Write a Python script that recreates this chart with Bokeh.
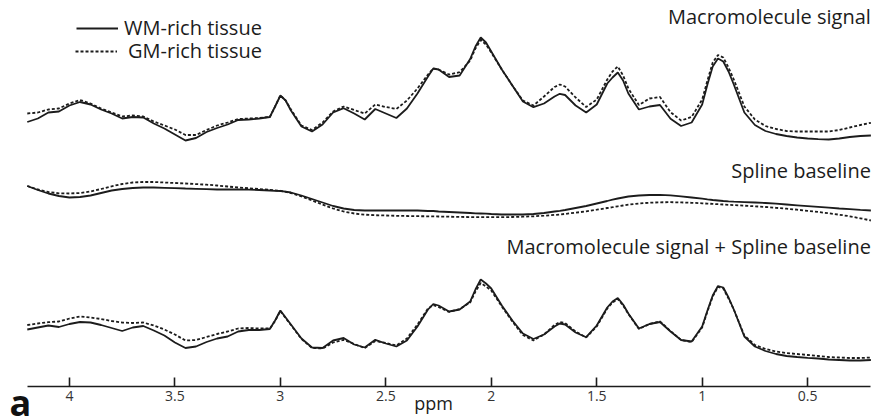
from bokeh.plotting import figure
from bokeh.models import Range1d, FixedTicker, Label, Legend, LegendItem, LinearAxis
from bokeh.embed import file_html
from bokeh.resources import INLINE

# chemical shift (ppm), shared by all series
ppm = [4.2, 4.15, 4.1, 4.05, 4.0, 3.95, 3.9, 3.85, 3.8, 3.75,
       3.7, 3.65, 3.6, 3.55, 3.5, 3.45, 3.4, 3.35, 3.3, 3.25,
       3.2, 3.15, 3.1, 3.05, 3.025, 3.0, 2.975, 2.95, 2.9, 2.85,
       2.8, 2.75, 2.7, 2.65, 2.6, 2.55, 2.5, 2.45, 2.4, 2.35,
       2.3, 2.275, 2.25, 2.2, 2.15, 2.1, 2.075, 2.05, 2.025, 2.0,
       1.95, 1.9, 1.85, 1.8, 1.75, 1.7, 1.675, 1.65, 1.6, 1.55,
       1.5, 1.45, 1.425, 1.4, 1.375, 1.35, 1.3, 1.25, 1.2, 1.15,
       1.1, 1.05, 1.0, 0.975, 0.95, 0.925, 0.9, 0.875, 0.85, 0.8,
       0.75, 0.7, 0.65, 0.6, 0.55, 0.5, 0.45, 0.4, 0.35, 0.3,
       0.25, 0.2]

# Macromolecule signal (a.u.)
mm_wm = [19.5, 23, 29, 30, 36, 39.5, 37, 32, 28, 23,
         24.5, 24, 18, 13, 7, 1, 3.5, 9.5, 13.5, 17,
         21.5, 22, 23, 24.5, 35, 46, 41, 31, 15, 10,
         17, 29, 33.3, 28, 22, 32.5, 28, 23.5, 33, 48,
         65, 73, 72, 64.5, 66, 82.5, 95, 104, 99, 90,
         72, 56, 40, 34.3, 38, 45, 47.7, 46.5, 36, 29,
         37, 58, 64, 69, 61, 48, 32, 35, 36.5, 22.7,
         15.5, 19, 37, 57, 75, 83, 80, 70, 57, 29,
         16.5, 10.5, 7.5, 5.5, 4, 3, 2.3, 2, 3, 4.5,
         5.5, 6]
mm_gm = [28, 29, 32, 33, 38, 41.5, 38, 33, 29, 25,
         26, 25, 20, 16, 12, 6.5, 6.5, 11.5, 16, 19,
         22.5, 23, 23.5, 24.5, 35, 46, 41, 32, 16, 11.5,
         19, 30, 35, 31.5, 28, 37, 34.5, 32.5, 41, 53,
         67, 73, 72, 67, 69.3, 81, 93, 101.5, 97, 89,
         72, 56, 41, 36, 45, 54.5, 57, 55, 44, 34.5,
         42, 62, 70, 75, 66, 53, 36.5, 43, 44.5, 29.3,
         21, 24.5, 42, 61, 79, 86.5, 84, 74, 62, 35,
         22, 15.5, 12.5, 10.5, 10, 10, 10, 10, 11.5, 14,
         16.5, 18.7]

# Spline baseline (a.u.)
sp_wm = [34.5, 30.5, 27, 24.5, 23, 23.5, 25, 27.5, 30, 31.5,
         32.5, 33, 33, 32.7, 32.4, 32, 31.7, 31.4, 31, 31,
         31, 30.8, 30.5, 30, 29.7, 29.5, 28.8, 28, 25, 21.5,
         18, 14.5, 12, 10.5, 10, 10, 10, 10, 10, 10,
         9.5, 9.5, 9, 8.5, 8, 7.5, 7.2, 7, 6.8, 6.5,
         6, 6, 6, 6.5, 7.5, 9, 9.7, 10.5, 12.5, 14.5,
         17, 19.5, 20.8, 22, 23, 24, 25, 25.5, 25.7, 25.2,
         24.2, 23, 21.8, 21.1, 20.5, 20, 19.5, 19.1, 18.8, 18.4,
         18, 17.5, 16.8, 16, 15.2, 14.4, 13.6, 12.8, 12, 11.3,
         10.6, 10]
sp_gm = [34.5, 31, 28.5, 27.2, 27, 27.5, 29, 31.5, 34.2, 36.5,
         38, 38.5, 38.5, 38, 37.5, 37, 36.4, 35.8, 35, 34,
         33, 32.2, 31.5, 30.7, 30.2, 29.7, 28.6, 27.5, 24, 20,
         16, 12, 9, 7, 5.8, 5.3, 5, 4.7, 4.5, 4.3,
         4.2, 4.1, 4, 3.8, 3.6, 3.4, 3.3, 3.3, 3.3, 3.3,
         3.3, 3.5, 3.8, 4.2, 4.8, 5.6, 6, 6.6, 7.8, 9.2,
         10.8, 12.5, 13.3, 14.2, 15, 15.8, 17, 17.8, 18.2, 18.3,
         18.1, 17.7, 17.2, 16.9, 16.6, 16.3, 16, 15.7, 15.4, 14.8,
         14.2, 13.5, 12.7, 11.8, 10.8, 9.7, 8.5, 7.2, 5.8, 4.2,
         2.2, 0]

# Macromolecule signal + Spline baseline (a.u.)
sum_wm = [33, 35, 37, 35.5, 38.5, 40.5, 40, 37.5, 34.5, 31.5,
          35, 36.5, 32, 27, 20, 14.5, 16, 20.5, 24, 26,
          31, 32.5, 32.5, 33.5, 42, 52, 45, 38, 24, 15,
          14.5, 22, 24.5, 18, 15, 22.7, 19, 16, 22, 36,
          53, 58.5, 57, 51, 53, 61, 73, 83, 79, 74,
          57, 42, 29, 23.5, 28, 36, 39, 38, 30, 25.3,
          37, 55, 61, 64.5, 58, 49, 34, 38.5, 40.5, 31,
          22.5, 21, 36, 52, 67, 76.5, 75, 65, 53, 26,
          16, 11.5, 8.5, 6.5, 5.5, 4.7, 4, 3, 2.5, 2,
          2, 2.5]
sum_gm = [37.5, 39, 40.3, 41, 44, 46, 45, 43.5, 41.5, 40,
          39.5, 40, 37, 33, 28, 22, 22.5, 25.5, 28.5, 31,
          34, 34.5, 34, 34, 41.5, 51.5, 44.5, 37.5, 23.5, 14.5,
          14, 20, 22.7, 18.5, 14.5, 21.5, 19.5, 17, 24, 38,
          54, 57.5, 55.5, 50.5, 53.5, 60, 71, 79.5, 76, 72,
          56, 41, 27.5, 22, 28, 37.5, 40.5, 39.5, 31, 25,
          36, 54, 60, 63.5, 57, 48.5, 33.5, 38.5, 41, 31.5,
          22.5, 20.5, 35, 51, 66, 75.5, 74, 64, 53, 27,
          17.5, 13.5, 11, 9.5, 8.5, 7.5, 6.5, 5.5, 5, 4.5,
          4.5, 5]

tick_values = [4, 3.5, 3, 2.5, 2, 1.5, 1, 0.5]
tick_labels = ["4", "3.5", "3", "2.5", "2", "1.5", "1", "0.5"]
panel_titles = ["Macromolecule signal", "Spline baseline",
                "Macromolecule signal + Spline baseline"]
series_names = ["WM-rich tissue", "GM-rich tissue"]
x_label = "ppm"
panel_letter = "a"

# layout: vertical stacking offsets of the three panels, title heights
offsets = [244.6, 165.6, 23.6]
title_y = [369.6, 215.6, 139.6]
x_bounds = (0.2, 4.2)

FONT = "Open Sans"
INK = "#1c1c1c"

p = figure(width=886, height=418, output_backend="svg", toolbar_location=None,
           x_range=Range1d(4.327, 0.126), y_range=Range1d(-32.4, 385.6),
           x_axis_location=None, y_axis_location=None,
           min_border=0, min_border_left=0, min_border_right=0,
           min_border_top=0, min_border_bottom=0)
p.outline_line_color = None
p.xgrid.visible = False
p.ygrid.visible = False
p.background_fill_color = "white"
p.border_fill_color = "white"

ax = LinearAxis(fixed_location=0, bounds=x_bounds)
ax.ticker = FixedTicker(ticks=tick_values)
ax.major_label_overrides = {v: s for v, s in zip(tick_values, tick_labels)}
ax.major_tick_in = 9
ax.major_tick_out = 0
ax.minor_tick_line_color = None
ax.axis_line_width = 1.6
ax.axis_line_color = INK
ax.major_tick_line_width = 1.6
ax.major_tick_line_color = INK
ax.major_label_text_font = FONT
ax.major_label_text_font_size = "14px"
ax.major_label_text_color = "#333333"
ax.major_label_standoff = 5
p.add_layout(ax, "below")

series = [(mm_wm, mm_gm), (sp_wm, sp_gm), (sum_wm, sum_gm)]
wm_renderer = gm_renderer = None
for (wm, gm), off in zip(series, offsets):
    r1 = p.line(ppm, [v + off for v in wm], line_color=INK, line_width=1.8)
    r2 = p.line(ppm, [v + off for v in gm], line_color=INK, line_width=1.8,
                line_dash="3 2")
    if wm_renderer is None:
        wm_renderer, gm_renderer = r1, r2

for txt, yy in zip(panel_titles, title_y):
    p.add_layout(Label(x=0.2, y=yy, text=txt, text_align="right",
                       text_baseline="middle",
                       text_font=FONT, text_font_size="20px", text_color=INK))

legend_style = dict(padding=0, margin=0, spacing=0,
                    glyph_width=42, glyph_height=20, label_height=20,
                    label_text_font=FONT, label_text_font_size="20px",
                    label_text_color=INK, border_line_color=None,
                    background_fill_alpha=0)
for name, rend, loc, standoff in [(series_names[0], wm_renderer, (76, 377), 6),
                                  (series_names[1], gm_renderer, (75, 354), 11)]:
    p.add_layout(Legend(items=[LegendItem(label=name, renderers=[rend])],
                        location=loc, label_standoff=standoff, **legend_style))

p.add_layout(Label(x=2.274, y=-17.2, text=x_label,
                   text_align="center", text_baseline="middle",
                   text_font=FONT, text_font_size="18px", text_color=INK))
p.add_layout(Label(x=4.327, y=-16.0, x_offset=9, text=panel_letter,
                   text_align="left", text_baseline="middle",
                   text_font=FONT, text_font_style="bold",
                   text_font_size="36px", text_color="#111111"))

open("out.html", "w").write(file_html(p, INLINE))
